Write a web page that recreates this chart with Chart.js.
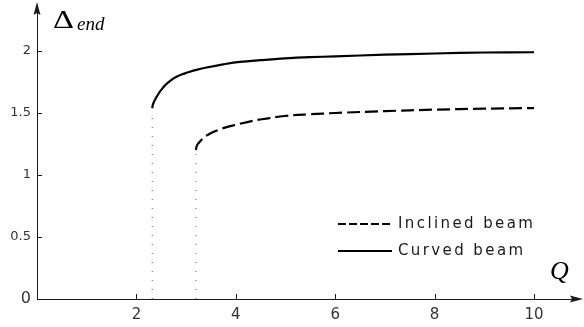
<!DOCTYPE html>
<html>
<head>
<meta charset="utf-8">
<script src="https://cdn.jsdelivr.net/npm/chart.js@4.4.1/dist/chart.umd.min.js"></script>
<style>
  html, body { margin: 0; padding: 0; background: #fff; }
</style>
</head>
<body>
<canvas id="chart" width="584" height="327"></canvas>
<script>
// Curved beam
const curvedQ     = [2.318, 2.33, 2.35, 2.372, 2.40, 2.435, 2.472, 2.52, 2.57, 2.606, 2.70, 2.807, 2.94, 3.075, 3.25, 3.411, 3.745, 4.08, 4.5, 5.0, 5.5, 6.0, 7.0, 8.0, 9.0, 10.0];
const curvedDelta = [1.538, 1.565, 1.588, 1.605, 1.626, 1.649, 1.672, 1.697, 1.72, 1.735, 1.765, 1.793, 1.814, 1.833, 1.852, 1.867, 1.892, 1.912, 1.926, 1.94, 1.95, 1.957, 1.97, 1.98, 1.988, 1.99];

// Inclined beam
const inclinedQ     = [3.196, 3.21, 3.235, 3.276, 3.32, 3.377, 3.45, 3.545, 3.645, 3.80, 3.98, 4.316, 4.65, 4.985, 5.5, 6.0, 7.0, 8.0, 9.0, 10.0];
const inclinedDelta = [1.202, 1.228, 1.25, 1.268, 1.288, 1.309, 1.327, 1.346, 1.363, 1.384, 1.403, 1.435, 1.457, 1.476, 1.49, 1.50, 1.515, 1.527, 1.535, 1.54];

// dotted guide lines under the curve starts
const criticalQ   = [2.318, 3.196];
const criticalTop = [1.50, 1.17];

const xTicks = [2, 4, 6, 8, 10];
const yTicks = [0, 0.5, 1, 1.5, 2];

const toPoints = (xs, ys) => xs.map((v, i) => ({ x: v, y: ys[i] }));

const datasets = [
  {
    label: 'Inclined beam',
    data: toPoints(inclinedQ, inclinedDelta),
    borderColor: '#000',
    borderWidth: 2.2,
    borderDash: [13, 5],
    tension: 0.4,
    pointRadius: 0,
    legendDash: [8, 3]
  },
  {
    label: 'Curved beam',
    data: toPoints(curvedQ, curvedDelta),
    borderColor: '#000',
    borderWidth: 2.2,
    tension: 0.4,
    pointRadius: 0,
    legendDash: []
  }
];
criticalQ.forEach((q, i) => {
  datasets.push({
    label: '',
    data: [{ x: q, y: 0 }, { x: q, y: criticalTop[i] }],
    borderColor: '#555',
    borderWidth: 1,
    borderDash: [1, 8],
    pointRadius: 0,
    guide: true
  });
});

// inward ticks, arrows, axis titles and legend
const decor = {
  id: 'decor',
  afterDraw(chart) {
    const ctx = chart.ctx;
    const xs = chart.scales.x, ys = chart.scales.y;
    const left = xs.left, bottom = ys.bottom;
    ctx.save();
    ctx.strokeStyle = '#1a1a1a';
    ctx.fillStyle = '#1a1a1a';
    ctx.lineWidth = 1;
    xTicks.forEach(v => {
      const px = Math.round(xs.getPixelForValue(v)) + 0.5;
      ctx.beginPath(); ctx.moveTo(px, bottom); ctx.lineTo(px, bottom - 5); ctx.stroke();
    });
    yTicks.forEach(v => {
      if (v === 0) return;
      const py = Math.round(ys.getPixelForValue(v)) + 0.5;
      ctx.beginPath(); ctx.moveTo(left, py); ctx.lineTo(left + 5, py); ctx.stroke();
    });

    // arrow heads
    const top = ys.top, right = xs.right;
    ctx.beginPath();
    ctx.moveTo(left, top - 3);
    ctx.lineTo(left - 3.5, top + 10);
    ctx.lineTo(left, top + 8);
    ctx.lineTo(left + 3.5, top + 10);
    ctx.closePath(); ctx.fill();
    ctx.beginPath();
    ctx.moveTo(right + 5, bottom);
    ctx.lineTo(right - 8, bottom - 3.5);
    ctx.lineTo(right - 6, bottom);
    ctx.lineTo(right - 8, bottom + 3.5);
    ctx.closePath(); ctx.fill();

    // axis titles
    ctx.fillStyle = '#000';
    ctx.textBaseline = 'alphabetic';
    ctx.textAlign = 'left';
    ctx.save();
    ctx.translate(53, 28);
    ctx.scale(1.3, 1);
    ctx.font = '25px "Liberation Serif"';
    ctx.fillText('\u0394', 0, 0);
    ctx.restore();
    ctx.font = 'italic 19px "Liberation Serif"';
    ctx.fillText('end', 77, 30);
    ctx.font = 'italic 26px "Liberation Serif"';
    ctx.fillText('Q', 550, 279);

    // legend
    const rows = [224, 251];
    chart.data.datasets.filter(d => !d.guide).forEach((d, i) => {
      const yy = rows[i];
      ctx.strokeStyle = '#000';
      ctx.lineWidth = 2;
      ctx.setLineDash(d.legendDash);
      ctx.beginPath(); ctx.moveTo(338, yy); ctx.lineTo(392, yy); ctx.stroke();
      ctx.setLineDash([]);
      ctx.fillStyle = '#1a1a1a';
      ctx.font = '15px "DejaVu Sans"';
      ctx.letterSpacing = '2.4px';
      ctx.textBaseline = 'middle';
      ctx.fillText(d.label, 398, yy);
      ctx.letterSpacing = '0px';
    });
    ctx.restore();
  }
};

new Chart(document.getElementById('chart'), {
  type: 'line',
  data: { datasets },
  options: {
    responsive: false,
    animation: false,
    layout: { padding: { top: 5, right: 6, left: 0, bottom: 0 } },
    plugins: { legend: { display: false }, tooltip: { enabled: false } },
    scales: {
      x: {
        type: 'linear',
        min: 0,
        max: 10.885,
        afterBuildTicks: s => { s.ticks = xTicks.map(v => ({ value: v })); },
        afterFit: s => { s.height = 28; s.paddingLeft = 0; s.paddingRight = 0; },
        grid: { display: false, drawTicks: false },
        border: { display: true, color: '#1a1a1a', width: 1 },
        ticks: {
          padding: 7,
          maxRotation: 0,
          color: '#333',
          font: { family: 'DejaVu Sans', size: 15 },
          callback: v => String(v)
        }
      },
      y: {
        min: 0,
        max: 2.371,
        afterBuildTicks: s => { s.ticks = yTicks.map(v => ({ value: v })); },
        afterFit: s => { s.width = 37; s.paddingTop = 0; s.paddingBottom = 0; },
        grid: { display: false, drawTicks: false },
        border: { display: true, color: '#1a1a1a', width: 1 },
        ticks: {
          padding: 6,
          color: '#333',
          font: c => ({ family: 'DejaVu Sans', size: c.tick && c.tick.value === 0 ? 16 : 13 }),
          callback: v => String(v)
        }
      }
    }
  },
  plugins: [decor]
});
</script>
</body>
</html>
